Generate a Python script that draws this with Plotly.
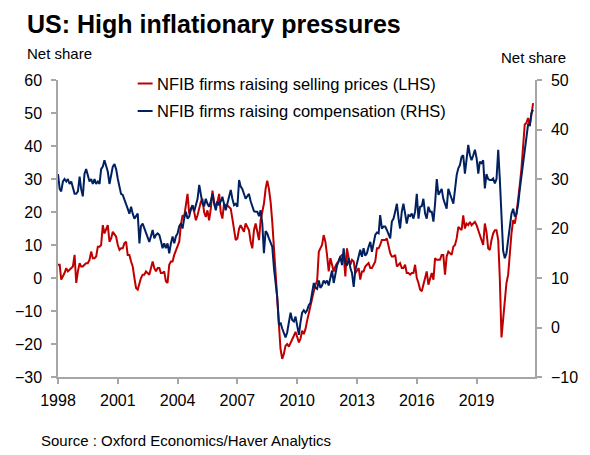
import pandas as pd
import plotly.graph_objects as go

# Monthly observations, Jan 1998 - Nov 2021 (net share, %)
prices_lhs = [
    4, 4, -0.5, 0.5, 1.5, 3, 2, 2.5, 3, 3.5, 7, -1.5,            # 1998
    2, 4.5, 3.5, 3.5, 4, 4.5, 4.5, 5.5, 8, 6, 6, 6.5,             # 1999
    9.5, 9.5, 10, 16, 13.5, 15, 16, 11, 12, 14, 13, 12.5,         # 2000
    10, 8.5, 9, 9, 10.5, 11, 7, 7, 5, 3.5, 0, -3,                 # 2001
    -3.5, -1.5, 0, 1, 1, 2, 1.5, 1, 3, 5, 3, 2,                   # 2002
    3, 3, 1.5, 1.5, 2, -1, -1.5, 4, 5, 5, 7, 8.5,                 # 2003
    9.5, 11, 16, 19, 18.5, 23, 25.5, 19.5, 21, 22, 20, 17.5,      # 2004
    19, 21.5, 23, 24, 20, 18.5, 20.5, 17.5, 21, 26.5, 23, 21.5,   # 2005
    23, 25.5, 20, 18, 22.5, 22, 22, 21.5, 21, 18, 15, 11.5,       # 2006
    12, 15, 16, 15, 14, 16.5, 15.5, 14.5, 11, 9, 14.5, 16.5,      # 2007
    14, 11.5, 17.5, 20, 22.5, 27, 29.5, 27, 23, 17, 9, 1,         # 2008
    -7, -16.5, -21.5, -24.5, -23, -20.5, -20, -20.8, -19.5, -18.8, -17.5, -16.3,  # 2009
    -18, -19.5, -18.5, -16, -17, -15.5, -13, -10.5, -9, -6.5, -4, -2,             # 2010
    -1, 8, 9, 10, 13, 11, 7, 2, 6, 4, 2, 3.5,                     # 2011
    4.5, 5, 6.5, 7, 7, 0.5, 9, 6, 4, 5.5, 5, 1.5,                 # 2012
    2.5, 3, -0.5, 2, 2, 3.5, 4, 4.5, 3, 3, 4, 5,                  # 2013
    9, 9, 10, 11.5, 11.5, 11.5, 12, 10, 7.5, 6.5, 6.5, 7,         # 2014
    3.5, 4, 4.5, 3, 3, 4, 1.5, 1.5, 1, 1.5, 1.5, 4,               # 2015
    0, -1.5, -3.5, -4, -2, 0, 2, -2, 0, 1.5, -0.5, 6,             # 2016
    5.5, 5.5, 5.5, 7, 7, 1, 6.5, 8, 7.5, 7, 9.5, 10,              # 2017
    12, 15.5, 15, 14.5, 19, 15, 16.5, 16, 17, 16, 16.5, 17,       # 2018
    16, 14.5, 12.5, 11.5, 10, 16.5, 14, 9, 8.5, 11.5, 13.5, 14.5, # 2019
    14.5, 11.5, 0, -18, -12.5, -5.5, -1.5, 1, 8, 13.5, 17.5, 16.5,# 2020
    19.5, 23.5, 28, 33, 38.5, 46.5, 47, 48.5, 46, 50, 53,         # 2021
]

compensation_rhs = [
    31, 28, 27.5, 29.5, 30, 29.5, 30, 29, 29.5, 28, 27, 27,       # 1998
    27.5, 30.5, 28, 26.5, 31, 32, 31, 29.5, 30, 29, 30, 29,       # 1999
    29.5, 29, 32, 32.5, 33.8, 32.5, 31.5, 29, 31, 32.5, 33, 32,   # 2000
    30, 28, 27, 26.8, 26, 25, 24, 23, 24.4, 23, 22, 22.5,         # 2001
    23, 17, 20.5, 21, 20, 19, 18, 17.3, 18.5, 19.7, 18, 18.7,     # 2002
    19, 18.7, 17.5, 16, 17, 16, 17, 15, 17, 18.4, 17, 18.4,       # 2003
    19, 20.5, 21, 20, 22, 23.4, 22, 22.4, 24, 24.7, 23.5, 24.7,   # 2004
    26, 28.8, 26.5, 25, 24.5, 26, 25, 24.4, 25.5, 27, 25, 23.7,   # 2005
    25.5, 24.7, 25.5, 26.4, 25, 23.7, 25, 26.5, 27.8, 26, 24.7, 25,  # 2006
    24.4, 29.8, 28.5, 28, 27, 26, 26.5, 27, 25.5, 24.4, 23.5, 23.4,  # 2007
    23.4, 22.5, 23.7, 21, 15, 19.5, 19, 18, 17, 16.3, 12, 9,      # 2008
    6, 0.5, 1, -0.2, -1, -2, -1, 0.8, 3, 1.5, 1.2, 2.2,           # 2009
    0.5, -1.5, 1, 3, 3.5, 3, 3.5, 4.5, 5, 7.5, 9, 8,              # 2010
    7.8, 9.5, 8, 8.5, 9.5, 9, 9.5, 8.5, 10.3, 11.5, 9, 11,        # 2011
    12.5, 13.5, 14.3, 12.6, 16, 13, 12.5, 14, 12, 11, 8.2, 11.6,  # 2012
    13, 14, 15.7, 14.3, 16, 14.5, 15, 16.3, 17.3, 15.3, 17.3, 18.7,  # 2013
    19.2, 19, 22.7, 20, 20.4, 20.4, 19.7, 19, 18, 21.4, 22, 23.4, # 2014
    25, 22, 20, 23.4, 25, 23, 21, 22.7, 22.5, 23, 22, 23.4,       # 2015
    27, 22, 24.4, 24.5, 26, 23, 22, 24.4, 23.4, 23.4, 21.4, 25,   # 2016
    30, 26.8, 27.5, 28, 26, 25, 24, 28, 26.8, 26, 25, 27.5,       # 2017
    30.8, 32.2, 32.8, 34.5, 34.8, 31.1, 34.5, 36.9, 34.8, 33.8, 34.8, 35.9,  # 2018
    34.2, 31.1, 33.5, 33.2, 33.8, 28.1, 31, 30, 29.8, 29.8, 30.1, 29.1,      # 2019
    30, 35.9, 30, 21, 15.5, 14, 15, 17.7, 21, 23, 24, 22.4,       # 2020
    23, 25, 27.8, 30.5, 33.8, 36.5, 38.5, 41, 40.9, 43.3, 44,     # 2021
]

dates = pd.date_range("1998-01-01", periods=len(prices_lhs), freq="MS")

series_names = ["NFIB firms raising selling prices (LHS)",
                "NFIB firms raising compensation (RHS)"]
left_ticks = list(range(-30, 61, 10))
right_ticks = list(range(-10, 51, 10))

RED = "#C00000"
NAVY = "#002060"
AXIS = "#A6A6A6"
FONT = "Liberation Sans, Arial, sans-serif"

fig = go.Figure()
fig.add_trace(go.Scatter(x=dates, y=prices_lhs, mode="lines", name=series_names[0],
                         line=dict(color=RED, width=2), yaxis="y"))
fig.add_trace(go.Scatter(x=dates, y=compensation_rhs, mode="lines", name=series_names[1],
                         line=dict(color=NAVY, width=2), yaxis="y2"))

L, R, T, B = 58, 53, 80, 78
W, H = 590, 455
pw, ph = W - L - R, H - T - B

def px(x):
    return (x - L) / pw

def py(y):
    return (H - B - y) / ph

axis_common = dict(showline=True, linecolor=AXIS, linewidth=1.5, ticks="outside",
                   tickcolor=AXIS, ticklen=5, tickwidth=1.5, showgrid=False, zeroline=False,
                   tickfont=dict(size=16, color="#000000", family=FONT))

fig.update_layout(
    width=W, height=H,
    margin=dict(l=L, r=R, t=T, b=B),
    paper_bgcolor="white", plot_bgcolor="white",
    showlegend=False,
    font=dict(family=FONT, color="#000000"),
    xaxis=dict(type="date", range=["1998-01-01", "2021-12-06"],
               tick0="1998-01-01", dtick="M36", tickformat="%Y",
               ticklabelstandoff=3, **axis_common),
    yaxis=dict(range=[-30, 60], tickvals=left_ticks, ticklabelstandoff=6, **axis_common),
    yaxis2=dict(range=[-10, 50], tickvals=right_ticks, overlaying="y", side="right",
                ticklabelstandoff=6, **axis_common),
)

ann = []
ann.append(dict(text="<b>US: High inflationary pressures</b>", x=px(25), y=py(24),
                xanchor="left", yanchor="middle", font=dict(size=25)))
ann.append(dict(text="Net share", x=px(25), y=py(53), xanchor="left", yanchor="middle",
                font=dict(size=15)))
ann.append(dict(text="Net share", x=px(570), y=py(57), xanchor="right", yanchor="middle",
                font=dict(size=15)))
ann.append(dict(text="Source : Oxford Economics/Haver Analytics", x=px(39), y=py(440),
                xanchor="left", yanchor="middle", font=dict(size=15)))
legend_rows = [(series_names[0], RED, 83.5), (series_names[1], NAVY, 111)]
shapes = []
for name, col, yy in legend_rows:
    ann.append(dict(text=name, x=px(155), y=py(yy), xanchor="left", yanchor="middle",
                    font=dict(size=16.5)))
    shapes.append(dict(type="line", xref="paper", yref="paper", x0=px(138), x1=px(153),
                       y0=py(yy), y1=py(yy), line=dict(color=col, width=2)))
for a in ann:
    a.update(xref="paper", yref="paper", showarrow=False)
fig.update_layout(annotations=ann, shapes=shapes)

fig.write_html("out.html", config={"displayModeBar": False},
               post_script="document.body.style.margin='0';document.body.style.padding='0';")
